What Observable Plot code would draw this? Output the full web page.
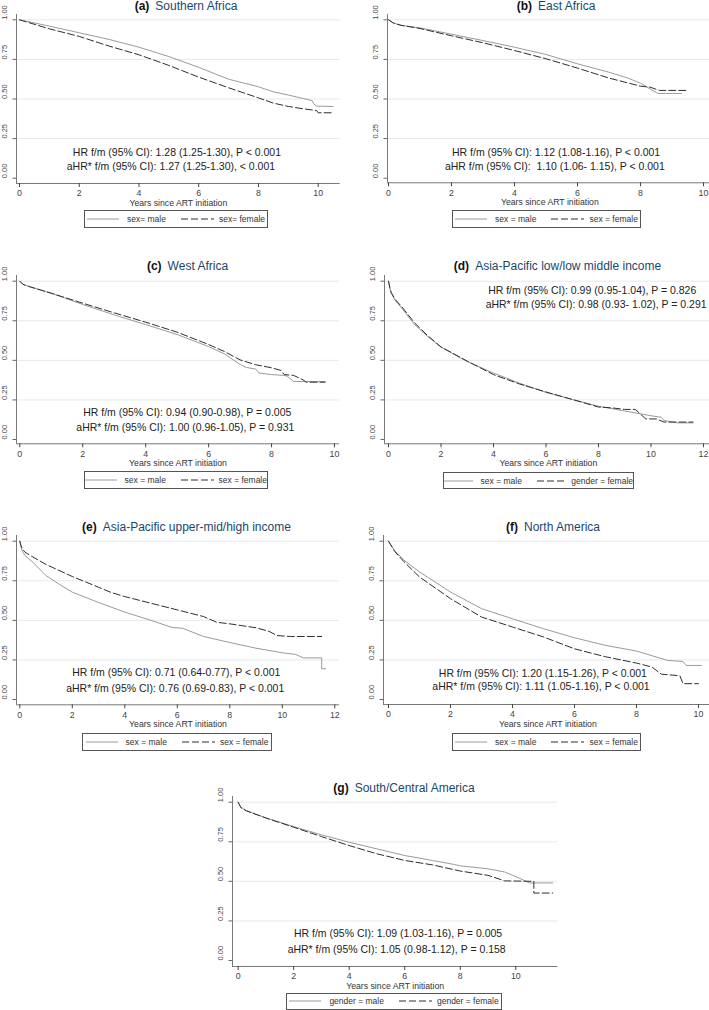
<!DOCTYPE html>
<html><head><meta charset="utf-8">
<script src="https://cdn.jsdelivr.net/npm/d3@7"></script>
<script src="https://cdn.jsdelivr.net/npm/@observablehq/plot@0.6"></script>
<style>
html,body{margin:0;padding:0;background:#fff;}
#root{position:relative;width:709px;height:1010px;overflow:hidden;font-family:"Liberation Sans",Arial,sans-serif;}
.title{position:absolute;white-space:nowrap;font-size:12px;line-height:12px;transform:translateX(-50%);}
.title b{color:#111;font-weight:bold;}
.title span{color:#1a476f;margin-left:6px;}
.legend{position:absolute;box-sizing:border-box;border:1px solid #555;display:flex;align-items:center;justify-content:center;font-size:8.5px;color:#333;white-space:nowrap;}
.legend svg{display:block;}
</style></head><body><div id="root"></div>
<script>
// ---------- DATA ----------
const panelLetters = ["(a)", "(b)", "(c)", "(d)", "(e)", "(f)", "(g)"];
const panelNames = ["Southern Africa", "East Africa", "West Africa", "Asia-Pacific low/low middle income",
  "Asia-Pacific upper-mid/high income", "North America", "South/Central America"];
const legendMale = ["sex= male", "sex = male", "sex = male", "sex = male", "sex = male", "sex = male", "gender = male"];
const legendFemale = ["sex= female", "sex = female", "sex = female", "gender = female", "sex = female", "sex = female", "gender = female"];
const hrText = [
  "HR f/m (95% CI): 1.28 (1.25-1.30), P < 0.001",
  "HR f/m (95% CI): 1.12 (1.08-1.16), P < 0.001",
  "HR f/m (95% CI): 0.94 (0.90-0.98), P = 0.005",
  "HR f/m (95% CI): 0.99 (0.95-1.04), P = 0.826",
  "HR f/m (95% CI): 0.71 (0.64-0.77), P < 0.001",
  "HR f/m (95% CI): 1.20 (1.15-1.26), P < 0.001",
  "HR f/m (95% CI): 1.09 (1.03-1.16), P = 0.005"];
const ahrText = [
  "aHR* f/m (95% CI): 1.27 (1.25-1.30), < 0.001",
  "aHR f/m (95% CI):  1.10 (1.06- 1.15), P < 0.001",
  "aHR* f/m (95% CI): 1.00 (0.96-1.05), P = 0.931",
  "aHR* f/m (95% CI): 0.98 (0.93- 1.02), P = 0.291",
  "aHR* f/m (95% CI): 0.76 (0.69-0.83), P < 0.001",
  "aHR* f/m (95% CI): 1.11 (1.05-1.16), P < 0.001",
  "aHR* f/m (95% CI): 1.05 (0.98-1.12), P = 0.158"];
const xAxisLabel = "Years since ART initiation";
const yTicks = [0, 0.25, 0.5, 0.75, 1];
const gridValues = [0.25, 0.5, 0.75, 1];
const xTicks10 = [0, 2, 4, 6, 8, 10];
const xTicks12 = [0, 2, 4, 6, 8, 10, 12];

// survival curves: [years, proportion]
const southernAfricaMale = [[0,1],[1,0.96],[2,0.918],[3,0.876],[4,0.827],[5,0.768],[6,0.70],[7,0.625],[8,0.577],[8.5,0.545],[9,0.525],[9.5,0.503],[9.8,0.49],[9.85,0.47],[9.95,0.455],[10.5,0.453]];
const southernAfricaFemale = [[0,1],[1,0.943],[2,0.895],[3,0.834],[4,0.779],[5,0.712],[6,0.638],[7,0.571],[8,0.507],[8.5,0.474],[9,0.453],[9.5,0.438],[9.95,0.427],[10,0.413],[10.5,0.413]];
const eastAfricaMale = [[0,1],[0.15,0.98],[0.4,0.965],[1,0.949],[2,0.909],[3,0.869],[4,0.827],[5,0.781],[6,0.722],[7,0.669],[7.6,0.632],[8,0.60],[8.3,0.564],[8.55,0.535],[9.3,0.535]];
const eastAfricaFemale = [[0,1],[0.15,0.98],[0.4,0.965],[1,0.945],[2,0.899],[3,0.855],[4,0.806],[5,0.754],[6,0.695],[7,0.632],[8,0.581],[8.3,0.575],[8.6,0.554],[9.5,0.554]];
const westAfricaMale = [[0,1],[0.1,0.98],[0.3,0.966],[1,0.924],[2,0.853],[3,0.787],[4,0.726],[5,0.663],[6,0.587],[6.5,0.541],[7,0.474],[7.2,0.455],[7.5,0.445],[7.6,0.42],[8,0.41],[8.4,0.405],[8.5,0.40],[8.7,0.366],[9.7,0.366]];
const westAfricaFemale = [[0,1],[0.1,0.98],[0.3,0.966],[1,0.924],[2,0.861],[3,0.80],[4,0.741],[5,0.678],[6,0.60],[6.5,0.556],[7,0.503],[7.5,0.472],[8,0.453],[8.3,0.436],[8.4,0.41],[8.7,0.405],[9,0.377],[9.1,0.362],[9.7,0.362]];
const apLowMale = [[0,1],[0.05,0.955],[0.1,0.925],[0.25,0.88],[0.5,0.83],[1,0.725],[1.5,0.65],[2,0.583],[3,0.492],[4,0.42],[5,0.355],[6,0.298],[7,0.253],[8,0.21],[9,0.18],[9.5,0.165],[10,0.15],[10.4,0.14],[10.5,0.12],[11,0.105],[11.6,0.105]];
const apLowFemale = [[0,1],[0.05,0.96],[0.1,0.93],[0.25,0.885],[0.5,0.84],[1,0.735],[1.5,0.655],[2,0.585],[3,0.495],[4,0.41],[5,0.35],[6,0.30],[7,0.253],[8,0.205],[8.5,0.20],[9,0.19],[9.4,0.19],[9.6,0.16],[9.8,0.13],[10.2,0.13],[10.5,0.11],[11.6,0.11]];
const apHighMale = [[0,1],[0.05,0.96],[0.1,0.935],[0.2,0.91],[0.5,0.867],[1,0.783],[1.5,0.728],[2,0.678],[3,0.613],[4,0.552],[5,0.50],[5.8,0.455],[6.2,0.45],[7,0.398],[8,0.36],[9,0.324],[10,0.295],[10.5,0.285],[10.8,0.263],[11.5,0.263],[11.5,0.194],[11.65,0.194]];
const apHighFemale = [[0,1],[0.05,0.97],[0.1,0.95],[0.2,0.93],[0.5,0.90],[1,0.853],[2,0.777],[3,0.709],[3.5,0.675],[4,0.65],[5,0.608],[6,0.566],[7,0.524],[7.5,0.488],[8,0.478],[9,0.453],[9.5,0.43],[9.8,0.404],[10.3,0.398],[11.5,0.398]];
const northAmericaMale = [[0,1],[0.2,0.94],[0.5,0.88],[1,0.806],[2,0.679],[3,0.574],[4,0.51],[5,0.447],[6,0.39],[7,0.342],[8,0.306],[9,0.247],[9.5,0.24],[9.6,0.215],[10.1,0.215]];
const northAmericaFemale = [[0,1],[0.2,0.935],[0.5,0.87],[1,0.774],[2,0.637],[3,0.521],[4,0.458],[5,0.395],[6,0.32],[7,0.27],[8,0.23],[8.5,0.205],[8.8,0.16],[9.4,0.15],[9.5,0.10],[10,0.10]];
const southCentralMale = [[0,1],[0.1,0.968],[0.3,0.947],[1,0.901],[2,0.846],[3,0.794],[4,0.747],[5,0.705],[6,0.663],[7,0.632],[7.8,0.606],[8,0.598],[9,0.579],[9.6,0.559],[10,0.53],[10.3,0.506],[10.5,0.49],[11.33,0.49]];
const southCentralFemale = [[0,1],[0.1,0.965],[0.3,0.945],[1,0.90],[2,0.842],[3,0.783],[4,0.726],[5,0.674],[6,0.632],[7,0.604],[8,0.565],[9,0.538],[9.6,0.503],[10.65,0.50],[10.65,0.426],[11.33,0.426]];

const maleSeries = [southernAfricaMale, eastAfricaMale, westAfricaMale, apLowMale, apHighMale, northAmericaMale, southCentralMale];
const femaleSeries = [southernAfricaFemale, eastAfricaFemale, westAfricaFemale, apLowFemale, apHighFemale, northAmericaFemale, southCentralFemale];

// ---------- LAYOUT ----------
const layout = [
  {axisX:16.3, x0:19.3, ppy:29.87, right:340, y1:19.3, y0:177.7, axisY:183, top:14, tX:186, tY:10, leg:[84,210,184,18], ticks:xTicks10, ann:[[5.27,0.164],[5.07,0.076]]},
  {axisX:387.3, x0:388.3, ppy:31.5, right:712, y1:19.3, y0:177.7, axisY:182.3, top:14, tX:556, tY:10, leg:[452,210,189,17.5], ticks:xTicks10, ann:[[5.32,0.164],[5.28,0.076]]},
  {axisX:16, x0:19.3, ppy:31.47, right:339, y1:280.7, y0:439, axisY:443.3, top:275, tX:187.5, tY:270, leg:[84,471,184,17.5], ticks:xTicks10, ann:[[5.32,0.169],[5.26,0.078]]},
  {axisX:384.3, x0:388.3, ppy:26.25, right:712, y1:280.7, y0:439, axisY:443.3, top:275, tX:557.5, tY:270, leg:[443,472,191,17], ticks:xTicks12, ann:[[7.76,0.941],[7.91,0.853]]},
  {axisX:16, x0:19.3, ppy:26.25, right:339, y1:540.7, y0:699, axisY:704.3, top:535, tX:186.5, tY:530.7, leg:[82,733,190,17.5], ticks:xTicks12, ann:[[5.96,0.169],[5.92,0.071]]},
  {axisX:383.3, x0:388.3, ppy:31, right:712, y1:540.7, y0:699, axisY:704, top:535, tX:553, tY:530.7, leg:[452,733,189,17.5], ticks:xTicks10, ann:[[4.98,0.166],[4.92,0.082]]},
  {axisX:231.7, x0:237.3, ppy:27.77, right:557, y1:801.7, y0:960, axisY:966, top:796, tX:404, tY:792.3, leg:[286,993,216,16.5], ticks:xTicks10, ann:[[5.76,0.169],[5.71,0.069]]}
];

const root = document.getElementById("root");
const fmt2 = d3.format(".2f");
const MALE_COLOR = "#9a9a9a", FEMALE_COLOR = "#2e2e2e", DASH = "7,3";

layout.forEach((L, i) => {
  const ML = 26, MT = 4, MR = 1, MB = 28;
  const svgLeft = L.axisX - ML, svgTop = L.top - MT;
  const W = L.right - svgLeft + MR;
  const H = L.axisY + MB - svgTop;
  const xLo = (L.axisX - L.x0) / L.ppy, xHi = (L.right - L.x0) / L.ppy;
  const span = L.y0 - L.y1;
  const yLo = -(L.axisY - L.y0) / span, yHi = 1 + (L.y1 - L.top) / span;
  const ann = [
    {x: L.ann[0][0], y: L.ann[0][1], t: hrText[i]},
    {x: L.ann[1][0], y: L.ann[1][1], t: ahrText[i]}
  ];
  const svg = Plot.plot({
    width: W, height: H,
    marginLeft: ML, marginTop: MT, marginRight: MR, marginBottom: MB,
    x: {domain: [xLo, xHi]},
    y: {domain: [yLo, yHi]},
    style: {fontFamily: "'Liberation Sans', Arial, sans-serif", fontSize: "9px", background: "transparent", overflow: "visible"},
    marks: [
      Plot.ruleY(gridValues, {stroke: "#e2eaee", strokeWidth: 1}),
      Plot.ruleX([xLo], {stroke: "#777", strokeWidth: 1}),
      Plot.ruleY([yLo], {stroke: "#777", strokeWidth: 1}),
      Plot.axisX({ticks: L.ticks, tickSize: 4, tickPadding: 2.5, fontSize: 8.8, color: "#444", label: null, tickFormat: d => String(d)}),
      Plot.axisY({ticks: yTicks, tickSize: 3.5, tickFormat: () => "", color: "#666", label: null}),
      Plot.text(yTicks, {y: d => d, text: d => fmt2(d), frameAnchor: "left", dx: -12, rotate: -90, fontSize: 7.5, fill: "#444"}),
      Plot.text([xAxisLabel], {text: d => d, frameAnchor: "bottom", dy: 22.5, lineAnchor: "bottom", fontSize: 8.7, fill: "#333"}),
      Plot.line(maleSeries[i], {x: d => d[0], y: d => d[1], stroke: MALE_COLOR, strokeWidth: 1}),
      Plot.line(femaleSeries[i], {x: d => d[0], y: d => d[1], stroke: FEMALE_COLOR, strokeWidth: 1, strokeDasharray: DASH}),
      Plot.text(ann, {x: "x", y: "y", text: "t", fontSize: 10.5, fill: "#222"})
    ]
  });
  svg.style.position = "absolute";
  svg.style.left = svgLeft + "px";
  svg.style.top = svgTop + "px";
  root.appendChild(svg);

  const title = document.createElement("div");
  title.className = "title";
  title.style.left = L.tX + "px";
  title.style.top = (L.tY - 10.2) + "px";
  title.innerHTML = `<b>${panelLetters[i]}</b><span>${panelNames[i]}</span>`;
  root.appendChild(title);

  const [lx, ly, lw, lh] = L.leg;
  const leg = document.createElement("div");
  leg.className = "legend";
  leg.style.left = lx + "px"; leg.style.top = ly + "px";
  leg.style.width = lw + "px"; leg.style.height = lh + "px";
  leg.innerHTML =
    `<svg width="32" height="6"><line x1="0" x2="32" y1="3" y2="3" stroke="${MALE_COLOR}" stroke-width="1"/></svg>` +
    `<span style="margin-left:8px">${legendMale[i]}</span>` +
    `<svg width="33" height="6" style="margin-left:15px"><line x1="0" x2="33" y1="3" y2="3" stroke="${FEMALE_COLOR}" stroke-width="1" stroke-dasharray="${DASH}"/></svg>` +
    `<span style="margin-left:5px">${legendFemale[i]}</span>`;
  root.appendChild(leg);
});
</script></body></html>
